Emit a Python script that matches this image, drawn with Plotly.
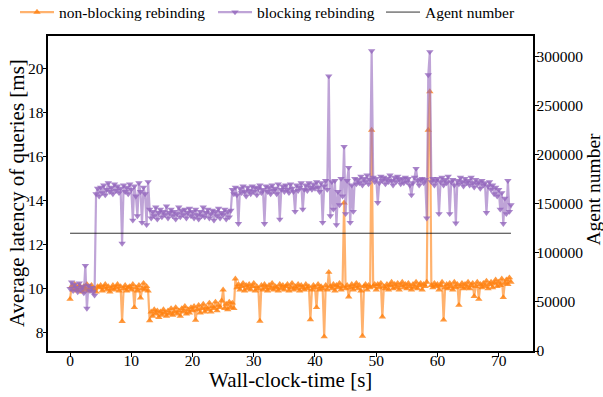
import plotly.graph_objects as go

time_s = [
    0, 0.25, 0.5, 0.75, 1, 1.25, 1.5, 1.75, 2, 2.25, 2.5, 2.75, 3, 3.25, 3.5, 3.75, 4, 4.25, 4.5, 4.75,
    5, 5.25, 5.5, 5.75, 6, 6.25, 6.5, 6.75, 7, 7.25, 7.5, 7.75, 8, 8.25, 8.5, 8.75, 9, 9.25, 9.5, 9.75,
    10, 10.25, 10.5, 10.75, 11, 11.25, 11.5, 11.75, 12, 12.25, 12.5, 12.75, 13, 13.25, 13.5, 13.75, 14, 14.25, 14.5, 14.75,
    15, 15.25, 15.5, 15.75, 16, 16.25, 16.5, 16.75, 17, 17.25, 17.5, 17.75, 18, 18.25, 18.5, 18.75, 19, 19.25, 19.5, 19.75,
    20, 20.25, 20.5, 20.75, 21, 21.25, 21.5, 21.75, 22, 22.25, 22.5, 22.75, 23, 23.25, 23.5, 23.75, 24, 24.25, 24.5, 24.75,
    25, 25.25, 25.5, 25.75, 26, 26.25, 26.5, 26.75, 27, 27.25, 27.5, 27.75, 28, 28.25, 28.5, 28.75, 29, 29.25, 29.5, 29.75,
    30, 30.25, 30.5, 30.75, 31, 31.25, 31.5, 31.75, 32, 32.25, 32.5, 32.75, 33, 33.25, 33.5, 33.75, 34, 34.25, 34.5, 34.75,
    35, 35.25, 35.5, 35.75, 36, 36.25, 36.5, 36.75, 37, 37.25, 37.5, 37.75, 38, 38.25, 38.5, 38.75, 39, 39.25, 39.5, 39.75,
    40, 40.25, 40.5, 40.75, 41, 41.25, 41.5, 41.75, 42, 42.25, 42.5, 42.75, 43, 43.25, 43.5, 43.75, 44, 44.25, 44.5, 44.75,
    45, 45.25, 45.5, 45.75, 46, 46.25, 46.5, 46.75, 47, 47.25, 47.5, 47.75, 48, 48.25, 48.5, 48.75, 49, 49.25, 49.5, 49.75,
    50, 50.25, 50.5, 50.75, 51, 51.25, 51.5, 51.75, 52, 52.25, 52.5, 52.75, 53, 53.25, 53.5, 53.75, 54, 54.25, 54.5, 54.75,
    55, 55.25, 55.5, 55.75, 56, 56.25, 56.5, 56.75, 57, 57.25, 57.5, 57.75, 58, 58.25, 58.5, 58.75, 59, 59.25, 59.5, 59.75,
    60, 60.25, 60.5, 60.75, 61, 61.25, 61.5, 61.75, 62, 62.25, 62.5, 62.75, 63, 63.25, 63.5, 63.75, 64, 64.25, 64.5, 64.75,
    65, 65.25, 65.5, 65.75, 66, 66.25, 66.5, 66.75, 67, 67.25, 67.5, 67.75, 68, 68.25, 68.5, 68.75, 69, 69.25, 69.5, 69.75,
    70, 70.25, 70.5, 70.75, 71, 71.25, 71.5, 71.75, 72,
]

non_blocking_ms = [
    9.52, 10.1, 9.95, 10.2, 10.0, 9.9, 10.15, 10.05, 9.85, 10.1, 9.95, 10.2, 9.9, 10.05, 10.15, 9.95, 10.0, 9.85, 10.1, 10.05,
    10.15, 9.9, 10.05, 10.2, 9.95, 10.1, 9.85, 10.0, 10.15, 9.95, 10.05, 10.2, 9.9, 10.1, 8.52, 10.0, 10.15, 9.9, 10.05, 10.1,
    9.95, 10.2, 9.15, 10.05, 9.9, 10.15, 9.58, 10.0, 10.25, 9.95, 10.1, 9.9, 8.55, 8.95, 8.75, 9.05, 8.85, 9.0, 8.7, 8.95,
    8.8, 9.05, 8.9, 8.75, 9.0, 8.85, 9.1, 8.8, 8.95, 9.15, 8.85, 9.0, 8.75, 9.1, 8.95, 9.2, 8.85, 9.05, 8.9, 9.15,
    9.0, 9.2, 8.57, 9.05, 9.25, 8.9, 9.1, 9.3, 8.95, 9.15, 9.05, 9.35, 8.95, 9.2, 9.1, 9.4, 9.0, 9.25, 9.15, 9.45,
    9.95, 9.1, 9.3, 9.05, 9.4, 9.15, 9.35, 9.1, 10.45, 10.05, 10.2, 9.95, 10.1, 10.25, 9.9, 10.15, 10.0, 10.2, 9.95, 10.1,
    10.25, 9.9, 10.1, 10.0, 8.53, 10.15, 9.95, 10.2, 10.05, 9.9, 10.15, 10.0, 10.25, 9.95, 10.1, 10.05, 9.9, 10.2, 10.0, 10.15,
    9.95, 10.1, 10.2, 9.9, 10.05, 10.25, 9.95, 10.1, 10.0, 10.2, 9.9, 10.15, 10.05, 9.95, 10.2, 10.0, 10.1, 8.6, 9.95, 10.15,
    10.05, 9.15, 10.2, 9.95, 10.1, 10.0, 7.82, 10.15, 9.95, 10.75, 10.1, 10.0, 10.2, 9.9, 10.15, 10.05, 10.25, 9.95, 10.1, 13.9,
    10.0, 10.15, 9.63, 10.05, 10.2, 9.95, 10.1, 10.25, 10.0, 10.15, 9.9, 7.85, 10.1, 10.2, 9.95, 10.15, 10.05, 17.2, 10.1, 10.2,
    9.95, 10.2, 10.05, 10.25, 8.72, 10.1, 10.0, 10.2, 9.95, 10.15, 10.3, 10.0, 10.2, 10.05, 10.25, 9.95, 10.15, 10.3, 10.05, 10.2,
    10.0, 10.25, 10.1, 9.95, 10.2, 10.05, 10.3, 10.0, 10.15, 10.25, 9.95, 10.2, 10.1, 10.3, 17.2, 18.95, 10.15, 10.05, 10.25, 10.1,
    10.2, 9.95, 10.15, 10.3, 8.58, 10.05, 10.2, 10.0, 10.25, 10.1, 9.95, 10.3, 10.05, 10.2, 9.25, 10.1, 10.25, 10.0, 10.2, 10.05,
    10.3, 10.0, 10.15, 10.25, 9.65, 10.1, 10.3, 9.52, 10.2, 10.05, 10.25, 10.1, 10.35, 10.0, 10.2, 10.3, 10.05, 10.25, 10.4, 10.1,
    10.3, 10.15, 10.45, 9.6, 10.25, 10.4, 10.2, 10.5, 10.3,
]

blocking_ms = [
    10.0, 10.3, 9.9, 10.2, 10.05, 9.85, 10.25, 9.95, 10.1, 9.8, 11.05, 9.1, 10.15, 9.9, 10.05, 9.85, 9.7, 14.3, 14.55, 14.2,
    14.6, 14.35, 14.7, 14.25, 14.5, 14.8, 14.4, 14.6, 14.3, 14.75, 14.45, 14.65, 14.35, 14.55, 12.05, 14.7, 14.4, 14.6, 14.3, 14.75,
    14.5, 13.1, 14.65, 14.2, 13.3, 14.8, 14.4, 13.0, 14.6, 14.3, 12.9, 14.85, 13.6, 13.2, 13.5, 13.3, 13.7, 13.15, 13.45, 13.6,
    13.25, 13.5, 13.35, 13.75, 13.2, 13.45, 13.6, 13.3, 13.5, 13.15, 13.4, 13.7, 13.25, 13.55, 13.35, 13.6, 13.2, 13.45, 13.65, 13.3,
    13.5, 13.2, 13.6, 13.35, 13.15, 13.5, 13.3, 13.7, 13.25, 13.45, 13.6, 13.2, 13.4, 13.55, 13.1, 13.5, 13.3, 13.65, 13.2, 13.45,
    13.35, 13.6, 13.15, 13.5, 13.25, 13.55, 14.5, 14.3, 14.6, 14.25, 12.95, 14.55, 14.35, 14.65, 14.4, 14.2, 14.6, 14.45, 14.3, 14.65,
    14.4, 14.6, 14.25, 14.55, 14.7, 14.35, 14.5, 12.95, 14.65, 14.4, 14.6, 14.3, 14.7, 14.45, 14.55, 14.3, 14.75, 13.15, 14.5, 14.65,
    14.4, 14.7, 14.5, 14.35, 14.75, 14.55, 14.4, 13.5, 14.7, 14.45, 14.6, 14.8, 13.6, 14.5, 14.7, 14.45, 14.8, 14.6, 14.5, 14.75,
    14.55, 14.85, 14.6, 14.4, 14.8, 13.0, 14.65, 14.9, 14.5, 19.65, 13.3, 14.85, 13.6, 14.9, 12.9, 14.4, 13.8, 15.0, 14.2, 16.45,
    13.4, 14.9, 15.5, 13.0, 14.7, 13.5, 15.0, 14.75, 14.95, 14.8, 15.1, 14.7, 15.0, 14.85, 15.15, 14.75, 14.95, 20.8, 15.05, 14.85,
    15.0, 13.9, 14.8, 15.1, 14.9, 15.05, 14.75, 15.0, 14.85, 15.15, 14.9, 14.7, 15.05, 14.85, 15.1, 14.95, 14.75, 15.0, 14.8, 15.05,
    14.85, 15.0, 14.7, 14.25, 14.8, 15.05, 15.45, 14.9, 14.7, 14.95, 15.0, 14.8, 14.95, 13.2, 19.7, 20.75, 14.85, 15.0, 14.7, 14.9,
    15.0, 13.4, 14.85, 15.05, 14.7, 14.95, 14.8, 15.1, 13.4, 14.85, 14.95, 14.7, 12.97, 14.9, 14.75, 15.05, 14.85, 14.65, 15.0, 14.8,
    14.9, 14.7, 15.05, 14.8, 14.6, 14.95, 14.75, 14.85, 14.55, 14.9, 14.7, 14.8, 13.45, 14.65, 14.85, 14.5, 14.7, 14.3, 14.6, 14.2,
    14.5, 13.6, 14.35, 12.95, 14.1, 13.4, 14.9, 13.5, 13.8,
]

agent_time_s = [0, 72]
agent_number = [120000, 120000]

FONT = "Liberation Serif"
ORANGE_LINE = "rgba(255,127,14,0.6)"
ORANGE_MARK = "rgba(255,127,14,0.8)"
PURPLE_LINE = "rgba(148,103,189,0.6)"
PURPLE_MARK = "rgba(148,103,189,0.8)"
W, H = 603, 397

fig = go.Figure()
fig.add_trace(go.Scatter(
    x=time_s, y=non_blocking_ms, name="non-blocking rebinding",
    mode="lines+markers", legend="legend",
    line=dict(color=ORANGE_LINE, width=2.2),
    marker=dict(symbol="triangle-up", size=6.5, color=ORANGE_MARK, line=dict(width=0)),
))
fig.add_trace(go.Scatter(
    x=time_s, y=blocking_ms, name="blocking rebinding",
    mode="lines+markers", legend="legend2",
    line=dict(color=PURPLE_LINE, width=2.2),
    marker=dict(symbol="triangle-down", size=6.5, color=PURPLE_MARK, line=dict(width=0)),
))
fig.add_trace(go.Scatter(
    x=agent_time_s, y=agent_number, name="Agent number",
    mode="lines", yaxis="y2", legend="legend3",
    line=dict(color="rgba(0,0,0,0.8)", width=1),
))

axis_common = dict(
    showline=True, linecolor="black", linewidth=2,
    ticks="outside", ticklen=3.5, tickwidth=1.2, tickcolor="black",
    showgrid=False, zeroline=False, automargin=False,
    tickfont=dict(family=FONT, size=15.5, color="black"),
)


def legend_at(px_left):
    return dict(
        orientation="h", xref="container", yref="container",
        x=px_left / W, xanchor="left", y=1 - 12.5 / H, yanchor="middle",
        font=dict(family=FONT, size=15.5, color="black"),
        bgcolor="rgba(0,0,0,0)", itemwidth=34,
    )


fig.update_layout(
    width=W, height=H, autosize=False,
    margin=dict(l=48, r=70, t=36, b=46, autoexpand=False),
    paper_bgcolor="white", plot_bgcolor="white",
    font=dict(family=FONT, color="black"),
    showlegend=True,
    legend=legend_at(15),
    legend2=legend_at(213),
    legend3=legend_at(381),
    xaxis=dict(range=[-3.6, 75.6], dtick=10, tick0=0, mirror=True,
               ticklabelstandoff=-9, **axis_common),
    yaxis=dict(range=[7.17, 21.47], dtick=2, tick0=0,
               ticklabelstandoff=-4, **axis_common),
    yaxis2=dict(
        range=[0, 321000], dtick=50000, tick0=0, tickformat="d",
        overlaying="y", side="right", anchor="x",
        ticklabelstandoff=-5, **axis_common,
    ),
    annotations=[
        dict(text="Wall-clock-time [s]", xref="paper", yref="paper", x=0.5, y=0,
             yshift=-29, xanchor="center", yanchor="middle", showarrow=False,
             font=dict(family=FONT, size=21, color="black")),
        dict(text="Average latency of queries [ms]", xref="paper", yref="paper", x=0, y=0.5,
             xshift=-31.5, xanchor="center", yanchor="middle", textangle=-90, showarrow=False,
             font=dict(family=FONT, size=21, color="black")),
        dict(text="Agent number", xref="paper", yref="paper", x=1, y=0.5,
             xshift=60, yshift=4, xanchor="center", yanchor="middle", textangle=-90, showarrow=False,
             font=dict(family=FONT, size=19.5, color="black")),
    ],
)

fig.write_html("out.html")
